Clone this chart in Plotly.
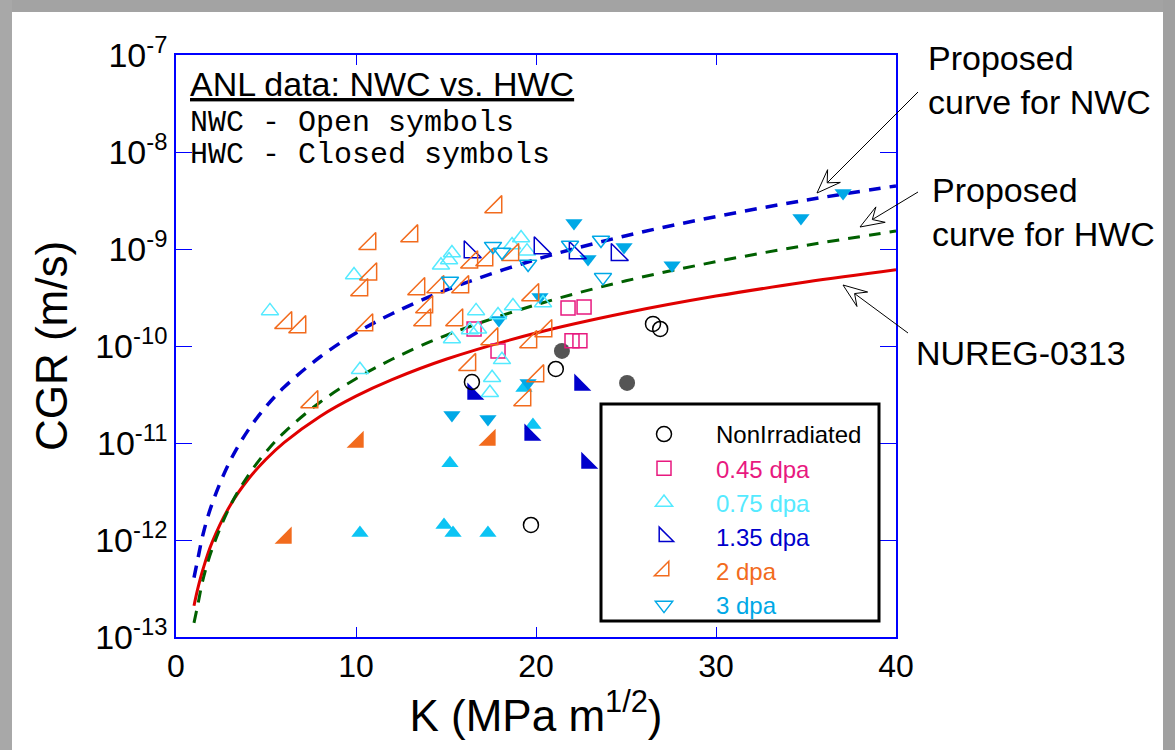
import plotly.graph_objects as go
import math

# ---------------- data ----------------
K_curve = [1, 1.2, 1.5, 2, 3, 4, 5, 6, 8, 10, 12, 15, 20, 25, 30, 35, 40]
cgr_nureg = [2.1e-13, 3.1e-13, 5.0e-13, 9.4e-13, 2.26e-12, 4.2e-12, 6.8e-12, 1.01e-11, 1.88e-11,
             3.04e-11, 4.5e-11, 7.3e-11, 1.36e-10, 2.2e-10, 3.27e-10, 4.56e-10, 6.1e-10]
cgr_nwc = [4.1e-13, 6.2e-13, 1.14e-12, 2.35e-12, 6.5e-12, 1.35e-11, 2.37e-11, 3.75e-11, 7.7e-11,
           1.36e-10, 2.15e-10, 3.77e-10, 7.8e-10, 1.37e-9, 2.16e-9, 3.19e-9, 4.47e-9]
cgr_hwc = [1.4e-13, 2.1e-13, 3.9e-13, 8.0e-13, 2.23e-12, 4.6e-12, 8.1e-12, 1.28e-11, 2.63e-11,
           4.6e-11, 7.3e-11, 1.29e-10, 2.66e-10, 4.7e-10, 7.4e-10, 1.09e-9, 1.53e-9]

# NonIrradiated
K_non_open = [16.44, 19.72, 21.1, 26.5, 26.9]
C_non_open = [4.25e-11, 1.43e-12, 5.8e-11, 1.69e-10, 1.50e-10]
K_non_closed = [21.44, 25.06]
C_non_closed = [8.9e-11, 4.16e-11]

# 0.45 dpa
K_045_open = [16.56, 17.89, 21.78, 22.67, 22.0, 22.44]
C_045_open = [1.50e-10, 8.9e-11, 2.47e-10, 2.52e-10, 1.13e-10, 1.13e-10]

# 0.75 dpa
K_075_open = [5.22, 10.22, 9.89, 14.72, 15.17, 15.33, 18.67, 19.17, 19.5, 18.72, 17.89,
              16.67, 16.33, 16.78, 15.33, 18.11, 17.56, 17.44, 20.39]
C_075_open = [2.30e-10, 5.7e-11, 5.4e-10, 6.8e-10, 7.7e-10, 9.1e-10, 1.10e-9, 1.30e-9, 9.5e-10,
              2.58e-10, 2.09e-10, 2.30e-10, 1.46e-10, 1.49e-10, 1.18e-10, 7.2e-11, 4.7e-11,
              3.3e-11, 2.77e-10]
K_075_closed = [15.22, 14.89, 15.39, 17.33, 10.22, 19.83, 19.33]
C_075_closed = [6.2e-12, 1.43e-12, 1.18e-12, 1.18e-12, 1.18e-12, 1.53e-11, 3.69e-11]

# 1.35 dpa
K_135_open = [16.33, 20.22, 22.17, 24.5]
C_135_open = [9.3e-10, 1.02e-9, 9.1e-10, 8.7e-10]
K_135_closed = [16.5, 22.44, 19.67, 22.83]
C_135_closed = [3.2e-11, 3.96e-11, 1.21e-11, 6.2e-12]

# 2 dpa
K_2_open = [10.78, 13.11, 10.83, 10.33, 6.11, 6.89, 10.61, 7.56, 13.5, 14.56, 15.94, 16.44,
            17.28, 18.72, 17.78, 13.94, 13.83, 15.61, 19.83, 17.56, 19.72, 20.56, 16.33,
            20.11, 19.39]
C_2_open = [1.13e-9, 1.36e-9, 5.5e-10, 3.78e-10, 1.73e-10, 1.57e-10, 1.64e-10, 2.65e-11,
            3.87e-10, 4.06e-10, 4.06e-10, 7.3e-10, 7.7e-10, 8.7e-10, 2.71e-9, 2.52e-10,
            1.85e-10, 1.85e-10, 3.36e-10, 1.18e-10, 1.10e-10, 1.43e-10, 6.4e-11, 4.9e-11,
            2.77e-11]
K_2_closed = [10.11, 17.44, 6.11]
C_2_closed = [1.02e-11, 1.07e-11, 1.05e-12]

# 3 dpa
K_3_open = [17.61, 18.11, 19.56, 21.89, 23.61, 23.72, 15.22]
C_3_open = [1.07e-9, 9.3e-10, 7.0e-10, 1.10e-9, 1.24e-9, 5.1e-10, 4.68e-10]
K_3_closed = [22.11, 22.89, 24.89, 20.22, 17.94, 15.33, 17.33, 27.56, 34.72, 37.06, 19.56]
C_3_closed = [1.85e-9, 7.9e-10, 1.05e-9, 3.2e-10, 1.85e-10, 1.94e-11, 1.77e-11, 6.8e-10,
              2.09e-9, 3.78e-9, 4.16e-11]

x_ticks = [0, 10, 20, 30, 40]
y_exps = [-13, -12, -11, -10, -9, -8, -7]

# ---------------- layout geometry ----------------
W, H = 1175, 750
L, R, T, B = 176, 279, 55, 113
PW = W - L - R
PH = H - T - B


def px(x):
    return (x - L) / PW


def py(y):
    return (H - B - y) / PH


SANS = "Liberation Sans, Arial, sans-serif"
MONO = "Liberation Mono, Courier New, monospace"

C_PINK = "#e8197f"
C_CYAN = "#55eaff"
C_CYAN_F = "#0cc4f4"
C_NAVY = "#0000cc"
C_ORNG = "#f26b1d"
C_SKY = "#00a8e6"

fig = go.Figure()

# curves
fig.add_trace(go.Scatter(x=K_curve, y=cgr_nureg, mode="lines", line=dict(color="#e00000", width=3, shape="spline"),
                         showlegend=False, hoverinfo="skip"))
fig.add_trace(go.Scatter(x=K_curve, y=cgr_hwc, mode="lines",
                         line=dict(color="#006000", width=3, dash="12px,9px", shape="spline"),
                         showlegend=False, hoverinfo="skip"))
fig.add_trace(go.Scatter(x=K_curve, y=cgr_nwc, mode="lines",
                         line=dict(color="#0000cc", width=3.5, dash="12px,9px", shape="spline"),
                         showlegend=False, hoverinfo="skip"))


def add(xs, ys, symbol, color, size, name=None, filled=False, legend=False, group=None):
    if filled:
        marker = dict(symbol=symbol, color=color, size=size, line=dict(width=0))
    else:
        marker = dict(symbol=symbol, color=color, size=size, line=dict(color=color, width=1.5))
    fig.add_trace(go.Scatter(x=xs, y=ys, mode="markers", marker=marker, name=name,
                             showlegend=legend, legendgroup=group))


RT = 19  # right-triangle marker size

# closed (HWC) symbols
add(K_non_closed, C_non_closed, "circle", "#555555", 16, filled=True)
add(K_075_closed, C_075_closed, "triangle-up", C_CYAN_F, 15, filled=True)
add(K_135_closed, C_135_closed, "triangle-sw", C_NAVY, RT, filled=True)
add(K_2_closed, C_2_closed, "triangle-se", C_ORNG, RT, filled=True)
add(K_3_closed, C_3_closed, "triangle-down", C_SKY, 15, filled=True)

# open (NWC) symbols with legend entries
add(K_non_open, C_non_open, "circle-open", "#000000", 15,
    name='<span style="color:#000000">NonIrradiated</span>', legend=True, group="g1")
add(K_045_open, C_045_open, "square-open", C_PINK, 14,
    name='<span style="color:%s">0.45 dpa</span>' % C_PINK, legend=True, group="g2")
add(K_075_open, C_075_open, "triangle-up-open", C_CYAN, 15,
    name='<span style="color:%s">0.75 dpa</span>' % C_CYAN, legend=True, group="g3")
add(K_135_open, C_135_open, "triangle-sw-open", C_NAVY, RT,
    name='<span style="color:%s">1.35 dpa</span>' % C_NAVY, legend=True, group="g4")
add(K_2_open, C_2_open, "triangle-se-open", C_ORNG, RT,
    name='<span style="color:%s">2 dpa</span>' % C_ORNG, legend=True, group="g5")
add(K_3_open, C_3_open, "triangle-down-open", C_SKY, 15,
    name='<span style="color:%s">3 dpa</span>' % C_SKY, legend=True, group="g6")

shapes = []
# grey frame of the screenshot
shapes.append(dict(type="rect", xref="paper", yref="paper", x0=px(0), x1=px(W), y0=py(0), y1=py(12),
                   fillcolor="#a3a3a3", line=dict(width=0), layer="below"))
shapes.append(dict(type="rect", xref="paper", yref="paper", x0=px(0), x1=px(12), y0=py(0), y1=py(H),
                   fillcolor="#a8a8a8", line=dict(width=0), layer="below"))
shapes.append(dict(type="rect", xref="paper", yref="paper", x0=px(1163), x1=px(W), y0=py(0), y1=py(H),
                   fillcolor="#a0a0a0", line=dict(width=0), layer="below"))
# legend box
shapes.append(dict(type="rect", xref="paper", yref="paper", x0=px(601), x1=px(879), y0=py(404), y1=py(621),
                   fillcolor="rgba(255,255,255,1)", line=dict(color="black", width=3), layer="above"))


def arrow(tail, tip, head_len=24, half_w=9, notch=0.6):
    tx, ty = tail
    hx, hy = tip
    dx, dy = hx - tx, hy - ty
    d = math.hypot(dx, dy)
    ux, uy = dx / d, dy / d
    nx, ny = -uy, ux
    bx, by = hx - head_len * ux, hy - head_len * uy
    p1 = (bx + half_w * nx, by + half_w * ny)
    p2 = (bx - half_w * nx, by - half_w * ny)
    pn = (hx - notch * head_len * ux, hy - notch * head_len * uy)
    shapes.append(dict(type="line", xref="paper", yref="paper", x0=px(tx), y0=py(ty), x1=px(pn[0]), y1=py(pn[1]),
                       line=dict(color="black", width=1)))
    path = "M %f,%f L %f,%f L %f,%f L %f,%f Z" % (px(hx), py(hy), px(p1[0]), py(p1[1]),
                                                 px(pn[0]), py(pn[1]), px(p2[0]), py(p2[1]))
    shapes.append(dict(type="path", xref="paper", yref="paper", path=path, fillcolor="white",
                       line=dict(color="black", width=1)))


arrow((918, 92), (817, 193))
arrow((918, 192), (860, 227))
arrow((908, 333), (843, 285))

annotations = [
    dict(text="<u>ANL data: NWC vs. HWC</u>", x=px(188), y=py(84), xanchor="left", yanchor="middle",
         font=dict(family=SANS, size=34, color="black")),
    dict(text="NWC - Open symbols", x=px(188), y=py(123), xanchor="left", yanchor="middle",
         font=dict(family=MONO, size=30, color="black")),
    dict(text="HWC - Closed symbols", x=px(188), y=py(155), xanchor="left", yanchor="middle",
         font=dict(family=MONO, size=30, color="black")),
    dict(text="Proposed<br>curve for NWC", x=px(926), y=py(80), xanchor="left", yanchor="middle", align="left",
         font=dict(family=SANS, size=34, color="black")),
    dict(text="Proposed<br>curve for HWC", x=px(930), y=py(212), xanchor="left", yanchor="middle", align="left",
         font=dict(family=SANS, size=34, color="black")),
    dict(text="NUREG-0313", x=px(914), y=py(353), xanchor="left", yanchor="middle", align="left",
         font=dict(family=SANS, size=34, color="black")),
]
for a in annotations:
    a.update(xref="paper", yref="paper", showarrow=False)

fig.update_layout(
    width=W, height=H,
    margin=dict(l=L, r=R, t=T, b=B),
    paper_bgcolor="white", plot_bgcolor="white",
    shapes=shapes, annotations=annotations,
    showlegend=True,
    legend=dict(x=px(612), y=py(412), xanchor="left", yanchor="top", bgcolor="rgba(0,0,0,0)",
                borderwidth=0, font=dict(family=SANS, size=24, color="black"),
                itemwidth=94, tracegroupgap=0, traceorder="normal"),
    xaxis=dict(range=[0, 40], tickvals=x_ticks, ticktext=[str(v) for v in x_ticks],
               ticks="inside", ticklen=10, tickcolor="#0000ff", tickwidth=1,
               showline=True, linecolor="#0000ff", linewidth=1.5, mirror="ticks",
               showgrid=False, zeroline=False,
               tickfont=dict(family=SANS, size=32, color="black"),
               title=dict(text="K (MPa m<sup>1/2</sup>)", font=dict(family=SANS, size=44, color="black"),
                          standoff=12)),
    yaxis=dict(type="log", range=[-13, -7], tickvals=[10.0 ** e for e in y_exps],
               ticktext=["10<sup>%d</sup>" % e for e in y_exps],
               ticks="inside", ticklen=16, tickcolor="#0000ff", tickwidth=1,
               showline=True, linecolor="#0000ff", linewidth=1.5, mirror="ticks",
               showgrid=False, zeroline=False,
               tickfont=dict(family=SANS, size=34, color="black"),
               title=dict(text="CGR (m/s)", font=dict(family=SANS, size=44, color="black"), standoff=14)),
)

fig.write_html("out.html")
